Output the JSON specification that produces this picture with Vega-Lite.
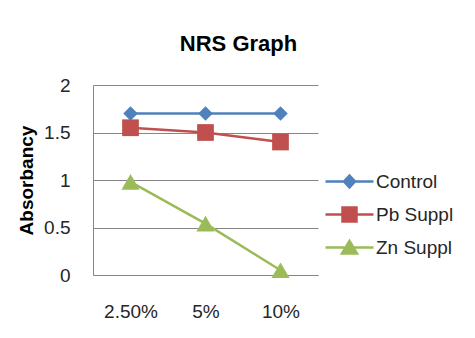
{
  "$schema": "https://vega.github.io/schema/vega-lite/v6.json",
  "width": 225,
  "height": 190,
  "autosize": {"type": "none"},
  "padding": {"left": 93, "top": 85, "right": 157, "bottom": 63},
  "background": "white",
  "title": {"text": "NRS Graph", "fontSize": 22, "font": "Liberation Sans", "fontWeight": "bold", "color": "#000000", "anchor": "middle", "dx": 33, "offset": 20},
  "config": {
    "view": {"stroke": null},
    "font": "Liberation Sans"
  },
  "data": {
    "values": [
      {"conc": "2.50%", "series": "Control", "value": 1.7},
      {"conc": "5%", "series": "Control", "value": 1.7},
      {"conc": "10%", "series": "Control", "value": 1.7},
      {"conc": "2.50%", "series": "Pb Suppl", "value": 1.55},
      {"conc": "5%", "series": "Pb Suppl", "value": 1.5},
      {"conc": "10%", "series": "Pb Suppl", "value": 1.4},
      {"conc": "2.50%", "series": "Zn Suppl", "value": 0.98},
      {"conc": "5%", "series": "Zn Suppl", "value": 0.54},
      {"conc": "10%", "series": "Zn Suppl", "value": 0.05}
    ]
  },
  "encoding": {
    "x": {
      "field": "conc", "type": "nominal", "sort": ["2.50%", "5%", "10%"],
      "scale": {"type": "point", "padding": 0.5},
      "axis": {"title": null, "labelAngle": 0, "labelFontSize": 19, "labelColor": "#262626", "labelPadding": 27, "ticks": false, "domainColor": "#868686", "domainWidth": 1, "grid": false}
    },
    "y": {
      "field": "value", "type": "quantitative",
      "scale": {"domain": [0, 2], "nice": false},
      "axis": {"title": "Absorbancy", "values": [0, 0.5, 1, 1.5, 2], "format": ".2~f", "labelFontSize": 19, "labelColor": "#262626", "labelPadding": 23, "ticks": false, "domainColor": "#868686", "domainWidth": 1, "gridColor": "#868686", "gridWidth": 1, "titleFontSize": 19, "titleFontWeight": "bold", "titleColor": "#000000", "titleX": -67, "titleY": 95, "titleBaseline": "middle", "titleAngle": -90}
    },
    "color": {
      "field": "series", "type": "nominal",
      "scale": {"domain": ["Control", "Pb Suppl", "Zn Suppl"], "range": ["#4F81BD", "#C0504D", "#9BBB59"]},
      "legend": {
        "title": null, "orient": "none", "legendX": 245, "legendY": 85,
        "symbolSize": 400, "rowPadding": 9, "labelOffset": 15,
        "labelFontSize": 19, "labelColor": "#262626",
        "encode": {
          "symbols": {
            "update": {
              "shape": {"signal": "datum.value == 'Control' ? 'M-2.4,0H2.4M0,-0.6L0.55,0L0,0.6L-0.55,0Z' : datum.value == 'Pb Suppl' ? 'M-2.4,0H2.4M-0.7,-0.7H0.7V0.7H-0.7Z' : 'M-2.4,0H2.4M0,-0.65L0.75,0.6L-0.75,0.6Z'"},
              "fill": {"signal": "scale('color', datum.value)"},
              "stroke": {"signal": "scale('color', datum.value)"},
              "strokeWidth": {"value": 2.5},
              "opacity": {"value": 1},
              "fillOpacity": {"value": 1}
            }
          }
        }
      }
    }
  },
  "layer": [
    {"mark": {"type": "line", "strokeWidth": 2.5}},
    {
      "transform": [{"filter": "datum.series == 'Control'"}],
      "mark": {"type": "point", "filled": true, "opacity": 1, "shape": "diamond", "size": 210}
    },
    {
      "transform": [{"filter": "datum.series == 'Pb Suppl'"}],
      "mark": {"type": "point", "filled": true, "opacity": 1, "shape": "square", "size": 280}
    },
    {
      "transform": [{"filter": "datum.series == 'Zn Suppl'"}],
      "mark": {"type": "point", "filled": true, "opacity": 1, "shape": "triangle-up", "size": 330}
    }
  ]
}
